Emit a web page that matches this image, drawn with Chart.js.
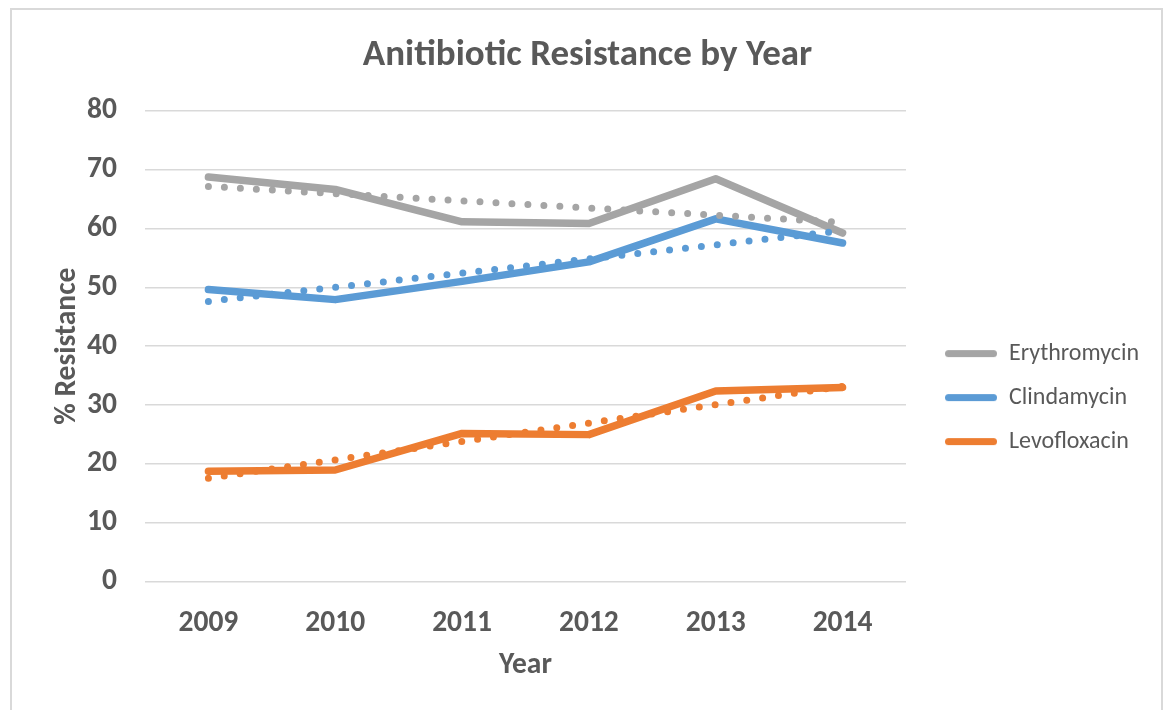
<!DOCTYPE html>
<html>
<head>
<meta charset="utf-8">
<script src="https://cdn.jsdelivr.net/npm/chart.js@4/dist/chart.umd.min.js"></script>
<style>
  html, body { margin: 0; padding: 0; background: #ffffff; }
  #wrap { position: relative; width: 1165px; height: 710px; overflow: hidden; }
  #chart { position: absolute; left: 0; top: 0; }
  #frame { position: absolute; left: 10px; top: 8px; width: 1153px; height: 740px;
           border: 2px solid #d9d9d9; box-sizing: border-box; pointer-events: none; }
</style>
</head>
<body>
<div id="wrap">
  <canvas id="chart" width="1165" height="710"></canvas>
  <div id="frame"></div>
</div>
<script>
// Categories and series values (% resistance)
const years = ['2009', '2010', '2011', '2012', '2013', '2014'];
const erythromycin = [68.7, 66.6, 61.1, 60.8, 68.4, 59.2];
const clindamycin  = [49.6, 47.9, 51.0, 54.3, 61.6, 57.5];
const levofloxacin = [18.8, 19.0, 25.2, 25.0, 32.4, 33.0];

// Linear trend lines: start and end values, joined straight across the gap
const erythromycinTrend = [67.1, null, null, null, null, 61.0];
const clindamycinTrend  = [47.6, null, null, null, null, 59.6];
const levofloxacinTrend = [17.6, null, null, null, null, 33.2];

const yTicks = [0, 10, 20, 30, 40, 50, 60, 70, 80];

const GRAY = '#a5a5a5', BLUE = '#5b9bd5', ORANGE = '#ed7d31', TEXT = '#595959';
const FONT = 'Carlito, Lato, "Open Sans", sans-serif';

// Legend swatch: a short rounded line with a blank lead-in on its left
const SWATCH_GAP = 19, SWATCH_LEN = 52, SWATCH_H = 7;
function swatch(color) {
  const c = document.createElement('canvas');
  c.width = SWATCH_GAP + SWATCH_LEN;
  c.height = SWATCH_H + 2;
  const g = c.getContext('2d');
  g.strokeStyle = color;
  g.lineWidth = SWATCH_H;
  g.lineCap = 'round';
  g.beginPath();
  g.moveTo(SWATCH_GAP + SWATCH_H / 2, c.height / 2);
  g.lineTo(c.width - SWATCH_H / 2, c.height / 2);
  g.stroke();
  return c;
}

function series(label, data, color) {
  return {
    label, data,
    borderColor: color, backgroundColor: color,
    borderWidth: 7.5, borderJoinStyle: 'round', borderCapStyle: 'round',
    pointRadius: 0, pointHoverRadius: 0, tension: 0, order: 1,
    swatch: swatch(color)
  };
}
function trend(data, color) {
  return {
    label: '', trend: true, data,
    borderColor: color, backgroundColor: color,
    borderWidth: 7, borderDash: [0, 16], borderCapStyle: 'round',
    pointRadius: 0, pointHoverRadius: 0, tension: 0, spanGaps: true, order: 0
  };
}

new Chart(document.getElementById('chart'), {
  type: 'line',
  data: {
    labels: years,
    datasets: [
      series('Erythromycin', erythromycin, GRAY),
      series('Clindamycin', clindamycin, BLUE),
      series('Levofloxacin', levofloxacin, ORANGE),
      trend(erythromycinTrend, GRAY),
      trend(clindamycinTrend, BLUE),
      trend(levofloxacinTrend, ORANGE)
    ]
  },
  options: {
    responsive: false,
    animation: false,
    layout: { padding: { left: 26, right: 16, top: 0, bottom: 0 } },
    plugins: {
      tooltip: { enabled: false },
      title: {
        display: true,
        text: 'Anitibiotic Resistance by Year',
        color: TEXT,
        font: { family: FONT, size: 37, weight: 'bold' },
        padding: { top: 34, bottom: 32 }
      },
      legend: {
        position: 'right',
        title: { display: true, text: ' ', font: { size: 1 }, padding: { top: 84, bottom: 0 } },
        labels: {
          color: TEXT,
          font: { family: FONT, size: 24 },
          usePointStyle: true,
          pointStyleWidth: SWATCH_GAP + SWATCH_LEN,
          boxHeight: SWATCH_H,
          padding: 20,
          filter: (item, data) => !data.datasets[item.datasetIndex].trend,
          generateLabels: (chart) => Chart.defaults.plugins.legend.labels.generateLabels(chart)
            .map(l => Object.assign(l, {
              pointStyle: chart.data.datasets[l.datasetIndex].swatch,
              lineWidth: 0
            }))
        }
      }
    },
    scales: {
      x: {
        offset: true,
        grid: { display: false },
        border: { display: false },
        ticks: { color: TEXT, font: { family: FONT, size: 29.5, weight: 'bold' }, padding: 16 },
        title: {
          display: true, text: 'Year', color: TEXT,
          font: { family: FONT, size: 29.5, weight: 'bold' },
          padding: { top: 0, bottom: 27 }
        },
        afterFit: (s) => { s.height = 128; }
      },
      y: {
        min: 0, max: 80,
        afterBuildTicks: (s) => { s.ticks = yTicks.map(v => ({ value: v })); },
        grid: { color: '#d9d9d9', lineWidth: 1.5, drawTicks: false },
        border: { display: false },
        ticks: { color: TEXT, font: { family: FONT, size: 29.5, weight: 'bold' }, padding: 28 },
        title: {
          display: true, text: '% Resistance', color: TEXT,
          font: { family: FONT, size: 29.5, weight: '600' },
          padding: { top: 24, bottom: 0 }
        },
        afterFit: (s) => { s.width = 119; }
      }
    }
  }
});
</script>
</body>
</html>
